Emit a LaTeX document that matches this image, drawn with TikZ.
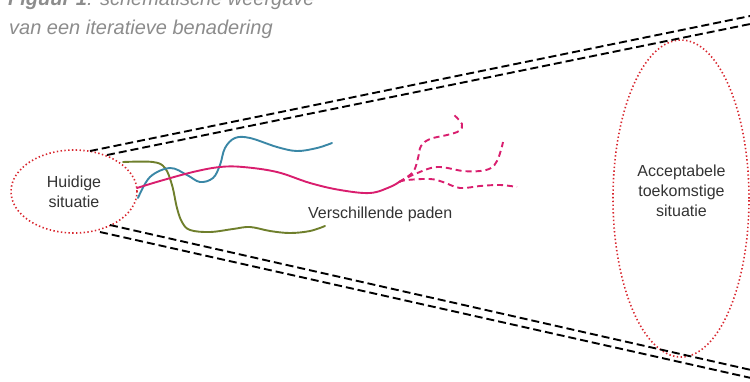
\documentclass[tikz,border=0pt]{standalone}
\usepackage{fontspec}
\setmainfont{Liberation Sans}
\usetikzlibrary{shapes.geometric}
\definecolor{ringred}{HTML}{D8262E}
\definecolor{pathblue}{HTML}{3A87A6}
\definecolor{pathpink}{HTML}{D91E6E}
\definecolor{pathgreen}{HTML}{6F7F2C}
\definecolor{titlegray}{HTML}{8C8C8C}
\definecolor{txt}{HTML}{333333}
\begin{document}
\begin{tikzpicture}[x=1pt,y=-1pt,
  ring/.style={ellipse, draw=ringred, line width=1.6pt, dash pattern=on 1.4pt off 2.4pt, inner sep=0pt},
  lbl/.style={text=txt, font=\fontsize{16}{20}\selectfont, align=center, inner sep=0pt},
  border/.style={draw=black, line width=1.9pt, dash pattern=on 8pt off 4pt},
  route/.style={line width=1.9pt, line cap=round},
  probe/.style={draw=pathpink, line width=1.9pt, dash pattern=on 6pt off 4pt},
  ttl/.style={text=titlegray, font=\fontsize{20}{24}\selectfont\itshape, anchor=base west, inner sep=0pt}]
\useasboundingbox (0,0) rectangle (750,381);

% title
\node[ttl] (t1) at (8,5) {\textbf{Figuur 1}: schematische weergave};
\node[ttl] (t2) at (9,34) {van een iteratieve benadering};

% ellipses
\node[ring, minimum width=126pt, minimum height=83pt] (huid) at (74,191.5) {};
\node[lbl] (huidtxt) at (74,192) {Huidige\\situatie};
\node[ring, minimum width=136pt, minimum height=317pt] (acc) at (681,198.5) {};
\node[lbl] (acctxt) at (681.5,191) {Acceptabele\\toekomstige\\situatie};

% funnel borders
\coordinate (u1) at (90,151);  \coordinate (u1e) at (760,14);
\coordinate (u2) at (107,155); \coordinate (u2e) at (760,22);
\coordinate (l1) at (110,225); \coordinate (l1e) at (760,372);
\coordinate (l2) at (100,232); \coordinate (l2e) at (760,380);
\draw[border] (u1) -- (u1e);
\draw[border] (u2) -- (u2e);
\draw[border] (l1) -- (l1e);
\draw[border] (l2) -- (l2e);

% paths
\draw[route, pathgreen] plot[smooth, tension=0.6] coordinates {(123,162) (153,162) (165,168) (172,185) (177,208) (182,222) (190,230) (210,232) (233,229) (250,227) (270,231) (290,233) (310,231) (325,226)};
\draw[route, pathblue] plot[smooth, tension=0.6] coordinates {(138,198) (150,177) (170,168) (187,175) (200,182) (213,178) (220,165) (225,148) (235,138) (250,138) (277,147) (297,151) (317,148) (332,143)};
\draw[route, pathpink] plot[smooth, tension=0.6] coordinates {(137,188) (160,181) (193,172) (220,167) (243,167) (277,172) (310,183) (340,190) (370,193) (390,187) (399,182)};

\coordinate (fork) at (399,182);
\draw[probe] plot[smooth, tension=0.6] coordinates {(fork) (413,172) (418,158) (421,146) (430,139) (447,135) (459,131) (462,124) (453,114)};
\draw[probe] plot[smooth, tension=0.6] coordinates {(fork) (415,174) (437,167) (463,171) (480,171) (491,168) (497,161) (501,150) (503,142)};
\draw[probe] plot[smooth, tension=0.6] coordinates {(fork) (407,180) (430,179) (443,182) (460,188) (480,186) (500,185) (517,187)};

\node[lbl, anchor=base west] (paden) at (308,218) {Verschillende paden};
\end{tikzpicture}
\end{document}
